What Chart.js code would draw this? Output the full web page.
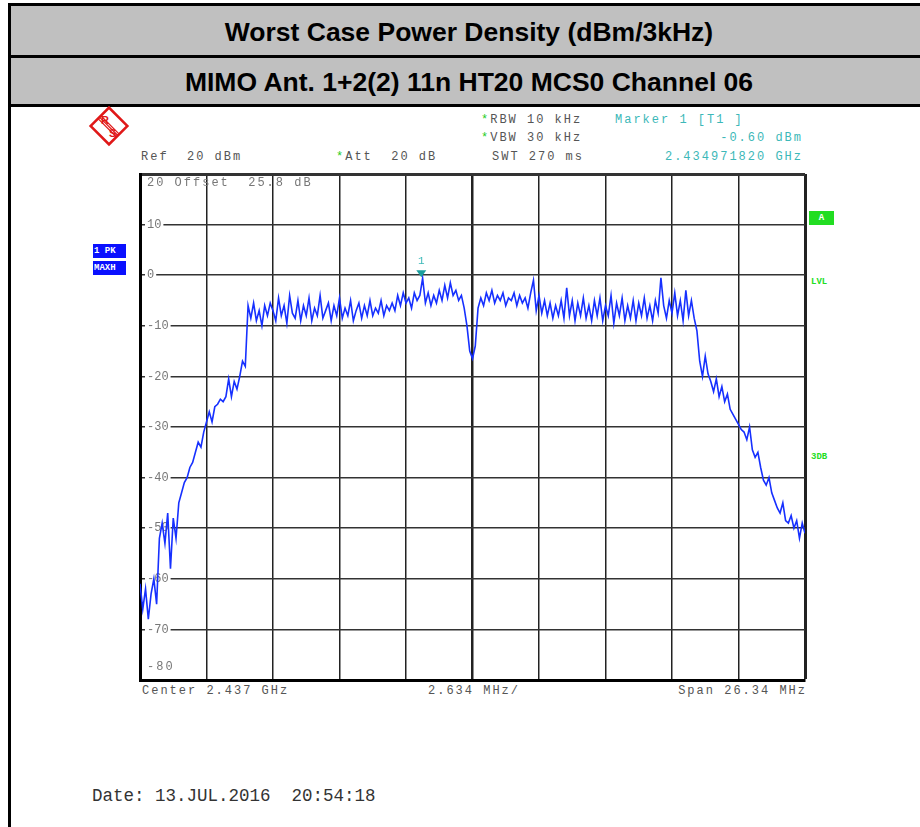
<!DOCTYPE html>
<html lang="en">
<head>
<meta charset="UTF-8">
<title>Worst Case Power Density (dBm/3kHz)</title>
<script src="https://cdn.jsdelivr.net/npm/chart.js"></script>
<style>
    body {
        margin: 0;
        width: 920px;
        height: 827px;
        overflow: hidden;
        position: relative;
        background: #fff;
    }
    #frame {
        position: absolute;
        left: 8px; top: 3px;
        width: 940px; height: 840px;
        border-left: 3px solid #000;
        border-top: 3px solid #000;
    }
    .hdr {
        position: absolute;
        left: 11px;
        width: 916px;
        background: #c0c0c0;
        border-bottom: 3px solid #000;
        text-align: center;
        font-family: "Liberation Sans", Arial, sans-serif;
        font-weight: bold;
        font-size: 26.5px;
        color: #000;
    }
    .t {
        position: absolute;
        font-family: "Liberation Mono", monospace;
        font-size: 12px;
        letter-spacing: 2px;
        line-height: 14px;
        white-space: pre;
        color: #555;
    }
    .star { color: #22cc22; }
    .mk { color: #3cb8b8; }
    .box {
        position: absolute;
        background: #0a10ff;
        color: #fff;
        font-family: "Liberation Mono", monospace;
        font-weight: bold;
        font-size: 9px;
        line-height: 14px;
        white-space: pre;
        padding-left: 1px;
        width: 32px;
        height: 14px;
    }
    .side {
        position: absolute;
        font-family: "Liberation Mono", monospace;
        font-weight: bold;
        font-size: 9px;
        color: #22dd22;
    }
    #chart { position: absolute; left: 0; top: 0; }
</style>
</head>
<body>
<div id="frame"></div>
<div class="hdr" style="top:6px;height:49px;line-height:52px;">Worst Case Power Density (dBm/3kHz)</div>
<div class="hdr" style="top:58px;height:46px;line-height:48px;">MIMO Ant. 1+2(2) 11n HT20 MCS0 Channel 06</div>

<!-- R&S logo -->
<svg style="position:absolute;left:88px;top:105px" width="42" height="42" viewBox="0 0 42 42">
    <g transform="rotate(45 21 21)" stroke="#e01818" fill="none">
        <rect x="8" y="8" width="26" height="26" stroke-width="2.5"/>
        <line x1="8" y1="19.5" x2="34" y2="19.5" stroke-width="1.2"/>
        <line x1="8" y1="21.5" x2="34" y2="21.5" stroke-width="1.2"/>
        <line x1="8" y1="23.5" x2="34" y2="23.5" stroke-width="1.2"/>
    </g>
    <text x="13" y="19" font-family="Liberation Sans" font-weight="bold" font-size="11" fill="#e01818">R</text>
    <text x="21" y="32" font-family="Liberation Sans" font-weight="bold" font-size="11" fill="#e01818">S</text>
</svg>

<div class="t" style="left:481px;top:113px;"><span class="star">*</span>RBW 10 kHz</div>
<div class="t mk" style="left:615px;top:113px;">Marker 1 [T1 ]</div>
<div class="t" style="left:481px;top:131px;"><span class="star">*</span>VBW 30 kHz</div>
<div class="t mk" style="right:117px;top:131px;">-0.60 dBm</div>
<div class="t" style="left:141px;top:150px;">Ref  20 dBm</div>
<div class="t" style="left:336px;top:150px;"><span class="star">*</span>Att  20 dB</div>
<div class="t" style="left:492px;top:150px;">SWT 270 ms</div>
<div class="t mk" style="right:117px;top:150px;">2.434971820 GHz</div>

<div class="box" style="left:93px;top:244px;">1 PK</div>
<div class="box" style="left:93px;top:261px;">MAXH</div>

<div class="side" style="left:809px;top:211px;width:25px;height:14px;line-height:14px;background:#22dd22;color:#fff;text-align:center;">A</div>
<div class="side" style="left:811px;top:277px;">LVL</div>
<div class="side" style="left:811px;top:452px;">3DB</div>

<div class="t" style="left:142px;top:684px;">Center 2.437 GHz</div>
<div class="t" style="left:428px;top:684px;">2.634 MHz/</div>
<div class="t" style="right:113px;top:684px;">Span 26.34 MHz</div>

<div class="t" style="left:92px;top:787px;font-size:17.5px;letter-spacing:0;line-height:18px;color:#333;">Date: 13.JUL.2016  20:54:18</div>

<canvas id="chart" width="920" height="827"></canvas>

<script>
    // sweep settings
    const centerMHz = 2437;
    const spanMHz = 26.34;
    const divMHz = 2.634;
    const yTicks = [-80, -70, -60, -50, -40, -30, -20, -10, 0, 10, 20];
    const offsetText = 'Offset  25.8 dB';

    // marker 1
    const markerMHz = 2434.97182;
    const markerDbm = -0.60;

    const level = [
        -61, -66, -62, -68, -63, -60, -65,
        -52, -49, -53, -47, -58, -48, -52,
        -45, -43, -41, -40, -38, -37, -35, -33, -34, -31, -29, -27, -29, -26, -25.5, -24.5, -25, -24, -20.5, -24, -21, -22.5, -20, -17, -18,
        -6, -8.5, -5.5, -9, -7, -10, -6, -8, -5.5,
        -7, -9, -4.5, -8, -6, -9.5, -4, -7.5, -8.5, -5, -9, -6, -8, -4.5, -9, -6.5, -8, -4, -8.5, -7, -5.5, -9, -6, -8, -4.5, -8.5,
        -6.5, -8, -5, -9, -7, -5.5, -8.5, -6, -8, -5, -8, -6.5, -7.5, -5, -8, -6, -7, -5.5, -7,
        -4, -6, -3.5, -5.5, -4.5, -6.5, -3.5, -5, -4, -0.6, -5.5, -3.5, -6, -4, -5.5, -3, -5, -2, -4.5, -1.5, -4, -3, -5, -4, -6.5,
        -10, -15, -16.5, -14, -6.5,
        -4.5, -6, -3.5, -5, -3, -5.5, -4, -5, -3.5, -6, -4.5, -5, -3.5, -6, -4, -5.5, -4.5, -6.5, -3.5, -1, -7, -4,
        -7.5, -5, -8, -5.5, -8.5, -6, -8, -5, -8.5, -2.5, -8, -5, -9, -5.5, -8, -4.5, -8.5, -6, -9, -5,
        -8, -4.5, -9, -6, -8, -4, -9.5, -5.5, -8, -4.5, -9, -6, -8.5, -5, -9, -5.5, -8, -4.5, -8.5, -6,
        -9, -5, -7.5, -0.5, -6, -8.5, -5, -7.5, -3.5, -8, -5, -9, -3, -8, -5, -8.5,
        -11, -17, -20, -16, -19.5, -21, -23, -20.5, -24, -22, -25, -23.5, -26.5, -27.5, -28.5, -29.5, -30.5, -31, -32.5, -30,
        -34.5, -36, -35, -38, -40.5, -41.5, -40, -43, -44.5, -46, -47, -45, -48.5, -49, -47.5, -50, -48.5, -52, -49, -51
    ];

    const startMHz = centerMHz - spanMHz / 2;
    const stopMHz = centerMHz + spanMHz / 2;
    const xGrid = [];
    for (let k = 0; k <= 10; k++) xGrid.push(startMHz + k * divMHz);
    const points = level.map((v, i) => ({ x: startMHz + i * spanMHz / (level.length - 1), y: v }));

    const yTop = yTicks[yTicks.length - 1];
    const yBottom = yTicks[0];
    const tickPad = 7;

    // marker triangle and the two end labels of the level axis
    const rsExtras = {
        id: 'rsExtras',
        afterDatasetsDraw(chart) {
            const { ctx, scales: { x, y } } = chart;
            ctx.save();
            const px = x.getPixelForValue(markerMHz);
            const py = y.getPixelForValue(markerDbm);
            ctx.fillStyle = '#1a9e9e';
            ctx.beginPath();
            ctx.moveTo(px - 5, py - 8);
            ctx.lineTo(px + 5, py - 8);
            ctx.lineTo(px, py - 1);
            ctx.closePath();
            ctx.fill();
            ctx.font = '11px "Liberation Mono"';
            ctx.textAlign = 'center';
            ctx.textBaseline = 'middle';
            ctx.fillStyle = '#3cb8b8';
            ctx.fillText('1', px, py - 17);

            ctx.textAlign = 'left';
            ctx.fillStyle = '#777';
            ctx.font = '12px "Liberation Mono"';
            ctx.letterSpacing = '2px';
            const lx = chart.chartArea.left + tickPad;
            ctx.fillText(yTop + ' ' + offsetText, lx, y.getPixelForValue(yTop) + 9);
            ctx.fillText(String(yBottom), lx, y.getPixelForValue(yBottom) - 13);
            ctx.restore();
        }
    };

    new Chart(document.getElementById('chart'), {
        type: 'line',
        data: {
            datasets: [{
                data: points,
                borderColor: '#1630ff',
                borderWidth: 1.6,
                pointRadius: 0,
                tension: 0
            }]
        },
        options: {
            responsive: false,
            animation: false,
            devicePixelRatio: 1,
            layout: { padding: { left: 140 - 2 * tickPad, top: 174, right: 115, bottom: 147 } },
            plugins: { legend: { display: false }, tooltip: { enabled: false } },
            scales: {
                x: {
                    type: 'linear',
                    min: startMHz,
                    max: stopMHz,
                    afterBuildTicks: s => { s.ticks = xGrid.map(v => ({ value: v })); },
                    ticks: { display: false },
                    grid: {
                        color: '#222',
                        drawTicks: false,
                        lineWidth: c => c.index === 5 ? 2.5 : (c.index === 10 ? 3 : 1.5)
                    },
                    border: { display: true, color: '#000', width: 3 }
                },
                y: {
                    min: yBottom,
                    max: yTop,
                    afterBuildTicks: s => { s.ticks = yTicks.map(v => ({ value: v })); },
                    ticks: {
                        mirror: true,
                        padding: tickPad,
                        color: '#777',
                        font: { family: 'Liberation Mono', size: 12 },
                        callback: v => (v === yTop || v === yBottom) ? '' : String(v),
                        showLabelBackdrop: c => c.tick.value !== yTop && c.tick.value !== yBottom,
                        backdropColor: '#fff',
                        backdropPadding: { x: 2, y: 0 }
                    },
                    grid: {
                        color: '#333',
                        drawTicks: false,
                        lineWidth: c => c.tick.value === yTop ? 3 : 1.5
                    },
                    border: { display: true, color: '#000', width: 3 }
                }
            }
        },
        plugins: [rsExtras]
    });
</script>
</body>
</html>
